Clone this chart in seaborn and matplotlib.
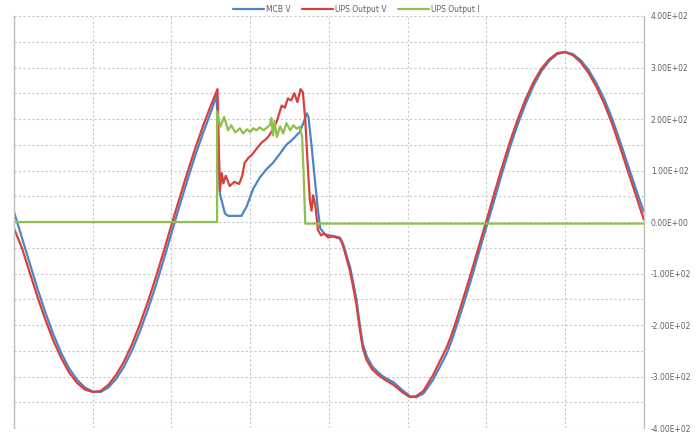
import pandas as pd
import matplotlib
matplotlib.use('Agg')
import matplotlib.pyplot as plt
import seaborn as sns
from matplotlib.ticker import MultipleLocator, FuncFormatter

# time in grid divisions (5 ms each, 50 Hz mains)
t_mcb = [0.0, 0.1, 0.2, 0.3, 0.4, 0.5, 0.6, 0.7, 0.8, 0.9, 1.0, 1.1, 1.2, 1.3, 1.4, 1.5,
         1.6, 1.7, 1.8, 1.9, 2.0, 2.1, 2.2, 2.3, 2.4, 2.5, 2.574, 2.616, 2.679, 2.72, 2.89,
         2.955, 3.04, 3.12, 3.21, 3.29, 3.38, 3.46, 3.55, 3.63, 3.67, 3.72, 3.74, 3.78, 3.82,
         3.86, 3.89, 3.95, 4.05, 4.14, 4.18, 4.22, 4.27, 4.31, 4.35, 4.39, 4.43, 4.48, 4.55,
         4.62, 4.69, 4.82, 4.94, 5.03, 5.11, 5.2, 5.32, 5.41, 5.5, 5.56, 5.6, 5.7, 5.8, 5.9, 6.0,
         6.1, 6.2, 6.3, 6.4, 6.5, 6.6, 6.7, 6.8, 6.9, 7.0, 7.1, 7.2, 7.3, 7.4, 7.5, 7.6, 7.7,
         7.8, 7.9, 8.0]
mcb_v = [20, -30, -80, -130, -176, -218, -254, -284, -306, -321, -329, -330, -321, -304, -280,
         -249, -212, -170, -124, -74, -22, 30, 80, 128, 172, 213, 246, 55, 17, 12, 12,
         30, 65, 86, 103, 115, 133, 150, 162, 175, 190, 211, 205, 148, 85,
         25, -12, -24, -27, -30, -42, -62, -88, -118, -150, -196, -236, -260, -280,
         -291, -300, -311, -327, -338, -340, -333, -307, -281, -254, -230, -212, -165, -115, -62, -10,
         42, 95, 145, 190, 230, 265, 293, 313, 326, 330, 326, 314, 295, 269, 238, 200, 156,
         110, 64, 20]

t_ups = [0.0, 0.1, 0.2, 0.3, 0.4, 0.5, 0.6, 0.7, 0.8, 0.9, 1.0, 1.1, 1.2, 1.3, 1.4, 1.5,
         1.6, 1.7, 1.8, 1.9, 2.0, 2.1, 2.2, 2.3, 2.4, 2.5, 2.585, 2.615, 2.64, 2.66, 2.69,
         2.74, 2.8, 2.86, 2.9, 2.93, 2.98, 3.02, 3.08, 3.15, 3.21, 3.25, 3.29, 3.34, 3.38,
         3.4, 3.44, 3.48, 3.52, 3.56, 3.6, 3.64, 3.67, 3.7, 3.72, 3.74, 3.76, 3.78, 3.8,
         3.83, 3.86, 3.9, 3.94, 3.99, 4.05, 4.14, 4.18, 4.22, 4.27, 4.31, 4.35, 4.39, 4.43,
         4.48, 4.55, 4.62, 4.69, 4.82, 4.94, 5.03, 5.11, 5.2, 5.32, 5.41, 5.5, 5.56, 5.6, 5.7, 5.8,
         5.9, 6.0, 6.1, 6.2, 6.3, 6.4, 6.5, 6.6, 6.7, 6.8, 6.9, 7.0, 7.1, 7.2, 7.3, 7.4, 7.5,
         7.6, 7.7, 7.8, 7.9, 8.0]
ups_v = [-12, -50, -98, -146, -190, -230, -264, -292, -312, -325, -330, -328, -316, -296, -270,
         -237, -198, -155, -108, -58, -6, 45, 95, 142, 186, 226, 258, 60, 95, 75, 90,
         70, 78, 74, 90, 115, 125, 130, 142, 155, 162, 170, 180, 196, 216,
         226, 222, 240, 236, 250, 233, 258, 252, 198, 142, 88, 40, 22, 52,
         30, -15, -26, -22, -30, -28, -32, -46, -68, -96, -128, -160, -206, -244,
         -268, -286, -296, -304, -316, -331, -340, -338, -328, -298, -270, -242, -218, -200, -152, -102,
         -50, 2, 55, 107, 156, 200, 239, 272, 298, 316, 328, 330, 324, 310, 289, 262, 229,
         190, 145, 98, 52, 5]

t_ups_i = [0.0, 2.58, 2.58, 2.62, 2.67, 2.72, 2.76, 2.81, 2.87, 2.91, 2.96, 3.0, 3.04, 3.08,
           3.12, 3.17, 3.21, 3.25, 3.27, 3.29, 3.31, 3.34, 3.38, 3.42, 3.46, 3.51, 3.55, 3.59,
           3.63, 3.66, 3.68, 3.7, 8.0]
ups_i = [0, 0, 215, 185, 204, 178, 188, 174, 182, 172, 180, 175, 182, 178,
         184, 178, 183, 188, 202, 168, 196, 165, 186, 172, 192, 178, 188, 181,
         185, 166, 90, -3, -3]

series = ['MCB V', 'UPS Output V', 'UPS Output I']
colors = ['#4a86c8', '#d9403c', '#8fc04f']

df = pd.concat([
    pd.DataFrame({'t': t_mcb, 'value': mcb_v, 'series': series[0]}),
    pd.DataFrame({'t': t_ups, 'value': ups_v, 'series': series[1]}),
    pd.DataFrame({'t': t_ups_i, 'value': ups_i, 'series': series[2]}),
], ignore_index=True)

sns.set_style('white')
fig = plt.figure(figsize=(6.99, 4.32), dpi=100)
ax = fig.add_axes([0.020, 0.009, 0.901, 0.954])

sns.lineplot(data=df, x='t', y='value', hue='series', palette=dict(zip(series, colors)),
             estimator=None, sort=False, linewidth=1.6, legend=False, ax=ax)

ax.set_xlim(0, 8)
ax.set_ylim(-400, 400)
ax.xaxis.set_major_locator(MultipleLocator(1))
ax.yaxis.set_major_locator(MultipleLocator(100))
ax.yaxis.set_minor_locator(MultipleLocator(50))
ax.grid(True, which='both', color='#c8c8c8', linestyle=(0, (2, 2)), linewidth=0.8)
ax.set_axisbelow(True)

ax.yaxis.tick_right()
ax.yaxis.set_major_formatter(FuncFormatter(lambda v, p: f'{v:.2E}'))
ax.tick_params(axis='y', which='both', length=0, pad=5, labelsize=5.5, labelcolor='#606060')
ax.tick_params(axis='x', length=0, labelbottom=False)
ax.set_xlabel('')
ax.set_ylabel('')

for s in ['top', 'bottom']:
    ax.spines[s].set_visible(False)
for s in ['left', 'right']:
    ax.spines[s].set_color('#bdbdbd')
    ax.spines[s].set_linewidth(1.0)

fig.legend(ax.get_lines()[:3], series, loc='upper center', bbox_to_anchor=(0.51, 1.005),
           ncol=3, frameon=False, fontsize=5.5, handlelength=4, columnspacing=1.5,
           handletextpad=0.3, labelcolor='#606060')

fig.savefig('out.png', dpi=100)
